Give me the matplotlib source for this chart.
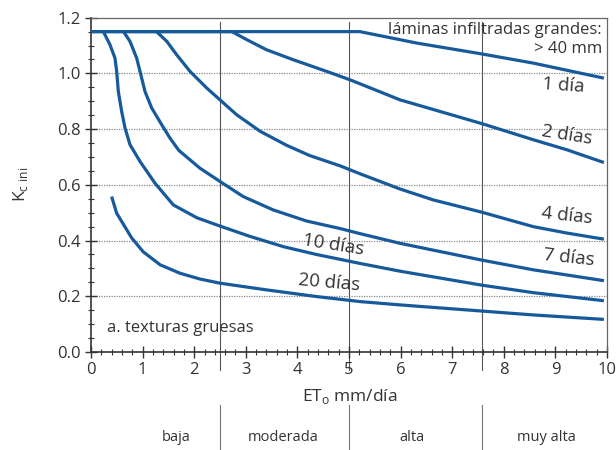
import matplotlib.pyplot as plt
from matplotlib.ticker import MultipleLocator
import matplotlib.transforms as mtransforms

plt.rcParams['font.family'] = ['Open Sans', 'DejaVu Sans']

azul = '#175a9c'
gris = '#333333'

# curvas Kc ini (texturas gruesas)
x_1d = [0.0, 5.21, 5.99, 6.31, 7.57, 8.57, 9.94]
y_1d = [1.15, 1.15, 1.121, 1.109, 1.07, 1.037, 0.983]

x_2d = [0.0, 2.73, 3.02, 3.40, 3.92, 4.57, 5.02, 5.99, 7.57, 8.57, 9.22, 9.94]
y_2d = [1.15, 1.15, 1.121, 1.085, 1.049, 1.007, 0.977, 0.905, 0.82, 0.762, 0.726, 0.68]

x_4d = [1.27, 1.47, 1.66, 1.92, 2.11, 2.24, 2.5, 2.82, 3.28, 3.79, 4.24, 4.83, 5.21, 5.99, 6.63, 7.57, 8.57, 9.22, 9.94]
y_4d = [1.15, 1.115, 1.067, 1.007, 0.972, 0.948, 0.905, 0.852, 0.792, 0.742, 0.705, 0.668, 0.64, 0.585, 0.546, 0.502, 0.45, 0.427, 0.405]

x_7d = [0.63, 0.756, 0.885, 0.95, 1.047, 1.176, 1.37, 1.53, 1.70, 2.11, 2.5, 2.95, 3.53, 4.18, 4.83, 5.21, 5.99, 7.57, 8.57, 9.94]
y_7d = [1.15, 1.115, 1.055, 1.007, 0.935, 0.876, 0.816, 0.768, 0.724, 0.66, 0.612, 0.558, 0.51, 0.47, 0.443, 0.425, 0.39, 0.33, 0.295, 0.256]

x_10d = [0.24, 0.368, 0.465, 0.498, 0.53, 0.595, 0.66, 0.756, 0.95, 1.24, 1.595, 2.05, 2.5, 3.08, 3.73, 4.37, 5.21, 5.99, 7.57, 8.57, 9.94]
y_10d = [1.15, 1.103, 1.055, 1.007, 0.935, 0.863, 0.804, 0.744, 0.684, 0.606, 0.528, 0.482, 0.452, 0.415, 0.378, 0.35, 0.318, 0.29, 0.24, 0.213, 0.184]

x_20d = [0.40, 0.498, 0.79, 1.01, 1.34, 1.72, 2.11, 2.5, 3.4, 4.37, 5.21, 5.99, 7.57, 8.57, 9.94]
y_20d = [0.558, 0.498, 0.409, 0.36, 0.313, 0.283, 0.262, 0.247, 0.223, 0.199, 0.181, 0.169, 0.147, 0.133, 0.117]

etiquetas = ['1 día', '2 días', '4 días', '7 días', '10 días', '20 días']
clases = ['baja', 'moderada', 'alta', 'muy alta']
clases_x = [1.65, 3.72, 6.23, 8.83]
limites = [2.5, 5.0, 7.57]

fig = plt.figure(figsize=(6.16, 4.5), dpi=100)
ax = fig.add_axes([0.1477, 0.2178, 0.8377, 0.7429])

for xs, ys in [(x_1d, y_1d), (x_2d, y_2d), (x_4d, y_4d), (x_7d, y_7d), (x_10d, y_10d), (x_20d, y_20d)]:
    ax.plot(xs, ys, color=azul, lw=2.3, solid_capstyle='butt', solid_joinstyle='round', zorder=3)

ax.set_xlim(0, 10)
ax.set_ylim(0, 1.2)

# rejilla horizontal punteada
for yy in [0.2, 0.4, 0.6, 0.8, 1.0]:
    ax.axhline(yy, color='#8a8a8a', lw=0.9, ls=(0, (1, 1)), zorder=1)

# lineas verticales de clases de ETo
trans = mtransforms.blended_transform_factory(ax.transData, ax.transAxes)
for xv in limites:
    ax.axvline(xv, ymin=-0.054, ymax=0.987, color='#555555', lw=0.8, clip_on=False, zorder=1)
    ax.plot([xv, xv], [-0.158, -0.30], color='#777777', lw=0.8, transform=trans, clip_on=False)

for cx, c in zip(clases_x, clases):
    ax.text(cx, -0.256, c, transform=trans, ha='center', va='center', fontsize=10.5, color=gris)

ax.xaxis.set_major_locator(MultipleLocator(1))
ax.xaxis.set_minor_locator(MultipleLocator(0.2))
ax.yaxis.set_major_locator(MultipleLocator(0.2))
ax.yaxis.set_minor_locator(MultipleLocator(0.05))
ax.yaxis.set_major_formatter(plt.FormatStrFormatter('%.1f'))
ax.tick_params(which='major', direction='inout', length=9, width=1.0, color=gris, labelsize=12, labelcolor=gris, pad=3)
ax.tick_params(which='minor', direction='inout', length=5, width=0.8, color=gris)

for s in ['left', 'bottom']:
    ax.spines[s].set_color(gris)
    ax.spines[s].set_linewidth(1.2)
for s in ['top', 'right']:
    ax.spines[s].set_color('#666666')
    ax.spines[s].set_linewidth(0.9)

ax.set_xlabel('ET$_\\mathregular{o}$ mm/día', fontsize=12.5, color=gris)
ax.xaxis.set_label_coords(0.502, -0.105)
ax.set_ylabel('K$_\\mathregular{c\\ ini}$', fontsize=12.5, color=gris)
ax.yaxis.set_label_coords(-0.118, 0.5)

ax.text(9.9, 1.157, 'láminas infiltradas grandes:', ha='right', va='center', fontsize=12, color=gris)
ax.text(9.9, 1.087, '> 40 mm', ha='right', va='center', fontsize=12, color=gris)

ax.text(9.15, 0.955, etiquetas[0], ha='center', va='center', fontsize=13.5, color=gris, rotation=-4)
ax.text(9.22, 0.78, etiquetas[1], ha='center', va='center', fontsize=13.5, color=gris, rotation=-9)
ax.text(9.22, 0.49, etiquetas[2], ha='center', va='center', fontsize=13.5, color=gris, rotation=-6)
ax.text(9.27, 0.338, etiquetas[3], ha='center', va='center', fontsize=13.5, color=gris, rotation=-6)
ax.text(4.7, 0.385, etiquetas[4], ha='center', va='center', fontsize=13.5, color=gris, rotation=-9)
ax.text(4.62, 0.248, etiquetas[5], ha='center', va='center', fontsize=13.5, color=gris, rotation=-5)

ax.text(0.32, 0.085, 'a. texturas gruesas', ha='left', va='center', fontsize=12, color=gris)

fig.savefig('out.png', dpi=100)
